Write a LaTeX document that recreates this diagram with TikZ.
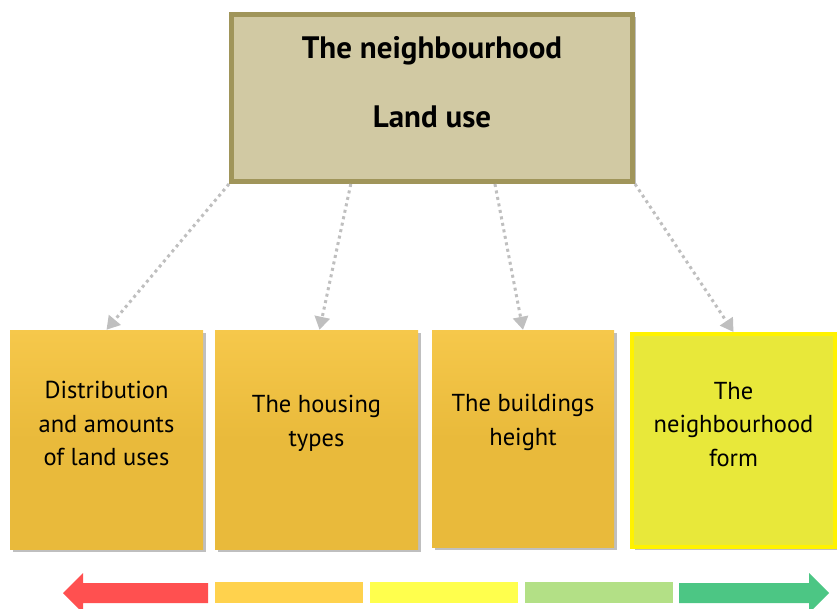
\documentclass[tikz,border=0pt]{standalone}
\usepackage{fontspec}
\setmainfont{PT Sans}
\usepackage{xcolor}
\usetikzlibrary{positioning, arrows.meta, calc, shadows}

\definecolor{khakifill}{HTML}{D1C9A3}
\definecolor{khakiline}{HTML}{A0955A}
\definecolor{boxorange}{HTML}{E9BA3B}
\definecolor{boxtop}{HTML}{F6C84B}
\definecolor{boxlime}{HTML}{E8E83A}
\definecolor{arrowgray}{HTML}{BFBFBF}
\definecolor{barred}{HTML}{FF5050}
\definecolor{barorange}{HTML}{FFD24D}
\definecolor{baryellow}{HTML}{FFFF4D}
\definecolor{barlight}{HTML}{B3E086}
\definecolor{bargreen}{HTML}{4CC684}

\begin{document}
\begin{tikzpicture}[x=1pt,y=-1pt,
    shade/.style={drop shadow={shadow xshift=3pt,shadow yshift=-3pt,opacity=0.25,fill=black}},
    box/.style={rectangle,shade,top color=boxtop,bottom color=boxorange,middle color=boxorange,draw=none},
    txt/.style={font=\fontsize{24.5}{33.5}\selectfont,align=center,yshift=16pt},
    link/.style={draw=arrowgray,line width=3pt,dash pattern=on 3pt off 3.6pt,
                 -{Triangle[width=15pt,length=13pt]}}]
    \useasboundingbox (0,0) rectangle (837,609);

    % top box
    \node[rectangle,shade,fill=khakifill,draw=khakiline,line width=5pt,
          minimum width=401pt,minimum height=167pt,
          label={[font=\bfseries\fontsize{31}{35}\selectfont,align=center,yshift=16pt]center:The neighbourhood\\[34pt]Land use}]
          (top) at (432,98) {};

    % the four boxes
    \node[box,minimum width=193pt,minimum height=219pt,
          label={[txt]center:Distribution\\and amounts\\of land uses}] (distr) at (106.5,439.5) {};
    \node[box,minimum width=203pt,minimum height=219pt,
          label={[txt]center:The housing\\types}] (housing) at (316.5,439.5) {};
    \node[box,minimum width=182pt,minimum height=217pt,
          label={[txt]center:The buildings\\height}] (height) at (523,438.5) {};
    \node[rectangle,shade,fill=boxlime,draw=yellow,line width=4pt,
          minimum width=203pt,minimum height=213pt,
          label={[txt]center:The\\neighbourhood\\form}] (form) at (733.5,440.5) {};

    % links
    \draw[link] (top.south west) -- (distr.north);
    \draw[link] ($(top.south west)!0.3!(top.south east)$) -- ($(housing.north)+(3,0)$);
    \draw[link] ($(top.south west)!0.655!(top.south east)$) -- (height.north);
    \draw[link] (top.south east) -- (form.north);

    % bottom bar
    \fill[barred] (63,593) -- (83,573) -- (83,583) -- (208,583) -- (208,603) -- (83,603) -- (83,613) -- cycle;
    \fill[barorange] (215,582) rectangle (363,603);
    \fill[baryellow] (370,582) rectangle (518,603);
    \fill[barlight] (525,582) rectangle (673,603);
    \fill[bargreen] (829,593) -- (809,573) -- (809,583) -- (679,583) -- (679,603) -- (809,603) -- (809,613) -- cycle;
\end{tikzpicture}
\end{document}
